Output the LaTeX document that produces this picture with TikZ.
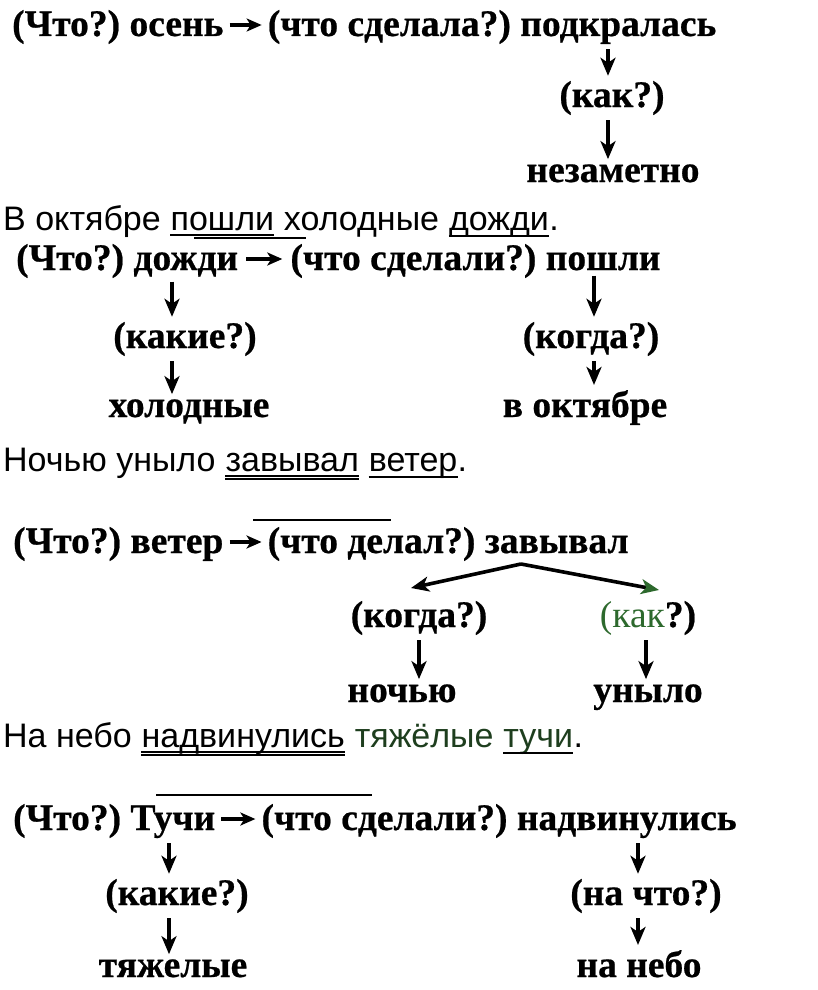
\documentclass[tikz,border=0pt]{standalone}
\usepackage{fontspec}
\setmainfont{Liberation Serif}
\newfontfamily\diafont{Liberation Serif}[BoldFeatures={FakeBold=0.6}]
\newfontfamily\sentfont{Liberation Sans}
\usetikzlibrary{positioning, arrows.meta}

\definecolor{leafgreen}{RGB}{45,105,45}
\definecolor{darkleaf}{RGB}{30,62,30}

\tikzset{
  dia/.style={font=\diafont\bfseries\fontsize{37.5}{42}\selectfont, inner sep=0pt},
  sent/.style={font=\sentfont\fontsize{34}{40}\selectfont, inner sep=0pt},
  darr/.style={draw, line width=3.6pt, -{Stealth[length=18pt,width=15pt,inset=5pt]}, shorten <=5pt, shorten >=5pt},
  inarr/.style={draw, line width=3.4pt, -{Stealth[length=15pt,width=13pt,inset=4pt]}},
  uline/.style={line width=1.5pt},
}

\begin{document}
\begin{tikzpicture}[x=1pt,y=-1pt]
    \useasboundingbox (0,0) rectangle (817,990);

    % Scheme 1
    \node[dia, anchor=base west] (q1) at (12,36) {(Что?)};
    \node[dia, base right=9pt of q1] (s1) {осень};
    \node[dia, base right=44pt of s1] (vq1) {(что сделала?)};
    \node[dia, base right=9pt of vq1] (v1) {подкралась};
    \path[inarr] ([xshift=6pt,yshift=11pt]s1.base east) -- ([xshift=-6pt,yshift=11pt]vq1.base west);
    \node[dia, anchor=base] (h1) at (612,107) {(как?)};
    \node[dia, anchor=base] (a1) at (613,182) {незаметно};
    \path[darr] ([xshift=-4pt]h1.north |- v1.south) -- ([xshift=-4pt]h1.north);
    \path[darr] ([xshift=-4pt]h1.south) -- ([xshift=-4pt]h1.south |- a1.north);

    % Sentence 2
    \node[sent, anchor=base west] (t2a) at (3,230) {В октябре};
    \node[sent, base right=9.5pt of t2a] (t2b) {пошли};
    \node[sent, base right=9.5pt of t2b] (t2c) {холодные};
    \node[sent, base right=9.5pt of t2c] (t2d) {дожди};
    \node[sent, base right=0pt of t2d] (t2e) {.};
    \draw[uline] ([yshift=-5pt]t2b.base west) -- ([yshift=-5pt]t2b.base east);
    \draw[uline] ([xshift=24pt,yshift=-8pt]t2b.base west) -- ([xshift=32pt,yshift=-8pt]t2b.base east); % second line
    \draw[uline] ([yshift=-6pt]t2d.base west) -- ([yshift=-6pt]t2d.base east);

    % Scheme 2
    \node[dia, anchor=base west] (q2) at (16,270) {(Что?)};
    \node[dia, base right=9pt of q2] (s2) {дожди};
    \node[dia, base right=52pt of s2] (vq2) {(что сделали?)};
    \node[dia, base right=9pt of vq2] (v2) {пошли};
    \path[inarr] ([xshift=8pt,yshift=11pt]s2.base east) -- ([xshift=-8pt,yshift=11pt]vq2.base west);
    \node[dia, anchor=base] (h2a) at (185,348) {(какие?)};
    \node[dia, anchor=base] (a2a) at (189,417) {холодные};
    \node[dia, anchor=base] (h2b) at (591,348) {(когда?)};
    \node[dia, anchor=base] (a2b) at (585,417) {в октябре};
    \path[darr] ([xshift=-13pt]h2a.north |- s2.south) -- ([xshift=-13pt]h2a.north);
    \path[darr] ([xshift=-13pt]h2a.south) -- ([xshift=-13pt]h2a.south |- a2a.north);
    \path[darr] ([xshift=3pt]h2b.north |- v2.south) -- ([xshift=3pt]h2b.north);
    \path[darr] ([xshift=3pt]h2b.south) -- ([xshift=3pt]h2b.south |- a2b.north);

    % Sentence 3
    \node[sent, anchor=base west] (t3a) at (3,471) {Ночью уныло};
    \node[sent, base right=9.5pt of t3a] (t3b) {завывал};
    \node[sent, base right=9.5pt of t3b] (t3c) {ветер};
    \node[sent, base right=0pt of t3c] (t3d) {.};
    \draw[uline] ([yshift=-5pt]t3b.base west) -- ([yshift=-5pt]t3b.base east);
    \draw[uline] ([yshift=-8pt]t3b.base west) -- ([yshift=-8pt]t3b.base east);
    \draw[uline] ([yshift=-6pt]t3c.base west) -- ([yshift=-6pt]t3c.base east);

    % Scheme 3
    \draw[uline] (253,520) -- (391,520); % stray line
    \node[dia, anchor=base west] (q3) at (13,553) {(Что?)};
    \node[dia, base right=9pt of q3] (s3) {ветер};
    \node[dia, base right=44pt of s3] (vq3) {(что делал?)};
    \node[dia, base right=9pt of vq3] (v3) {завывал};
    \path[inarr] ([xshift=6pt,yshift=11pt]s3.base east) -- ([xshift=-6pt,yshift=11pt]vq3.base west);
    \node[dia, anchor=base] (h3a) at (419,627) {(когда?)};
    \node[dia, anchor=base] (h3b) at (648,627) {\textcolor{leafgreen}{\mdseries(как}?)};
    \node[dia, anchor=base] (a3a) at (402,702) {ночью};
    \node[dia, anchor=base] (a3b) at (648,702) {уныло};
    \coordinate (fork) at (521,564);
    \coordinate (tipL) at (411,588);
    \coordinate (tipR) at (659,590);
    \path[darr, shorten <=0pt, shorten >=0pt] (fork) -- (tipL);
    \path[darr, shorten <=0pt, shorten >=0pt, -{Stealth[length=18pt,width=15pt,inset=5pt,color=leafgreen]}] (fork) -- (tipR);
    \path[darr] (h3a.south) -- (h3a.south |- a3a.north);
    \path[darr] ([xshift=-2pt]h3b.south) -- ([xshift=-2pt]h3b.south |- a3b.north);

    % Sentence 4
    \node[sent, anchor=base west] (t4a) at (3,747) {На небо};
    \node[sent, base right=9.5pt of t4a] (t4b) {надвинулись};
    \node[sent, base right=9.5pt of t4b, text=darkleaf] (t4c) {тяжёлые};
    \node[sent, base right=9.5pt of t4c, text=darkleaf] (t4d) {тучи};
    \node[sent, base right=0pt of t4d] (t4e) {.};
    \draw[uline] ([yshift=-5pt]t4b.base west) -- ([yshift=-5pt]t4b.base east);
    \draw[uline] ([yshift=-8pt]t4b.base west) -- ([yshift=-8pt]t4b.base east);
    \draw[uline] ([yshift=-6pt]t4d.base west) -- ([yshift=-6pt]t4d.base east);

    % Scheme 4
    \draw[uline] (156,795) -- (372,795); % stray line
    \node[dia, anchor=base west] (q4) at (13,830) {(Что?)};
    \node[dia, base right=9pt of q4] (s4) {Тучи};
    \node[dia, base right=46pt of s4] (vq4) {(что сделали?)};
    \node[dia, base right=9pt of vq4] (v4) {надвинулись};
    \path[inarr] ([xshift=6pt,yshift=11pt]s4.base east) -- ([xshift=-6pt,yshift=11pt]vq4.base west);
    \node[dia, anchor=base] (h4a) at (177,905) {(какие?)};
    \node[dia, anchor=base] (a4a) at (173,977) {тяжелые};
    \node[dia, anchor=base] (h4b) at (646,905) {(на что?)};
    \node[dia, anchor=base] (a4b) at (639,977) {на небо};
    \path[darr] ([xshift=-8pt]h4a.north |- s4.south) -- ([xshift=-8pt]h4a.north);
    \path[darr] ([xshift=-8pt]h4a.south) -- ([xshift=-8pt]h4a.south |- a4a.north);
    \path[darr] ([xshift=-8pt]h4b.north |- v4.south) -- ([xshift=-8pt]h4b.north);
    \path[darr] ([xshift=-8pt]h4b.south) -- ([xshift=-8pt]h4b.south |- a4b.north);
\end{tikzpicture}
\end{document}
